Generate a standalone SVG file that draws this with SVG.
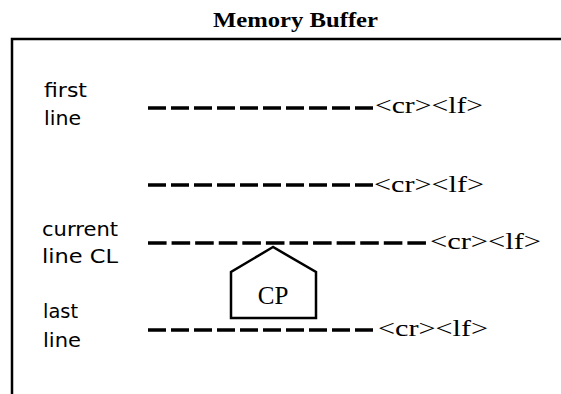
<svg xmlns="http://www.w3.org/2000/svg" width="561" height="394" viewBox="0 0 561 394">
<style>
.lbl{font-family:"DejaVu Sans","Liberation Sans",sans-serif;font-size:20px;fill:#000}
.crlf{font-family:"Liberation Serif","Times New Roman",serif;font-size:24px;fill:#000}
.title{font-family:"Liberation Serif","Times New Roman",serif;font-size:22px;font-weight:bold;fill:#000}
.dash{stroke:#000;stroke-width:3.5;stroke-dasharray:18 5;fill:none}
.frame{stroke:#000;stroke-width:2.5;fill:none}
</style>
<rect width="561" height="394" fill="#fff"/>
<g id="buffer">
<text class="title" x="213" y="27" textLength="165" lengthAdjust="spacingAndGlyphs">Memory Buffer</text>
<path class="frame" d="M561,39 H12 V394"/>
</g>
<g id="labels">
<text class="lbl" x="44" y="97" textLength="43" lengthAdjust="spacingAndGlyphs">first</text>
<text class="lbl" x="44" y="125" textLength="37" lengthAdjust="spacingAndGlyphs">line</text>
<text class="lbl" x="42" y="236" textLength="76" lengthAdjust="spacingAndGlyphs">current</text>
<text class="lbl" x="42" y="263" textLength="76" lengthAdjust="spacingAndGlyphs">line CL</text>
<text class="lbl" x="43" y="318" textLength="35" lengthAdjust="spacingAndGlyphs">last</text>
<text class="lbl" x="43" y="347" textLength="38" lengthAdjust="spacingAndGlyphs">line</text>
</g>
<g id="connectors">
<line class="dash" x1="148" y1="108" x2="373" y2="108"/>
<line class="dash" x1="148" y1="185" x2="373" y2="185"/>
<line class="dash" x1="148" y1="243" x2="426" y2="243" style="stroke-dasharray:18.58 5"/>
<line class="dash" x1="148" y1="330" x2="373" y2="330"/>
</g>
<g id="line-ends">
<text class="crlf" x="375" y="113" textLength="108" lengthAdjust="spacingAndGlyphs">&lt;cr&gt;&lt;lf&gt;</text>
<text class="crlf" x="374" y="192" textLength="110" lengthAdjust="spacingAndGlyphs">&lt;cr&gt;&lt;lf&gt;</text>
<text class="crlf" x="430" y="249" textLength="111" lengthAdjust="spacingAndGlyphs">&lt;cr&gt;&lt;lf&gt;</text>
<text class="crlf" x="378" y="336" textLength="110" lengthAdjust="spacingAndGlyphs">&lt;cr&gt;&lt;lf&gt;</text>
</g>
<g id="cp">
<path d="M273,247 L231,272 V318 H316 V272 Z" fill="none" stroke="#000" stroke-width="2.5"/>
<text x="273" y="304" text-anchor="middle" style="font-family:'Liberation Serif',serif;font-size:25px">CP</text>
</g>
</svg>
